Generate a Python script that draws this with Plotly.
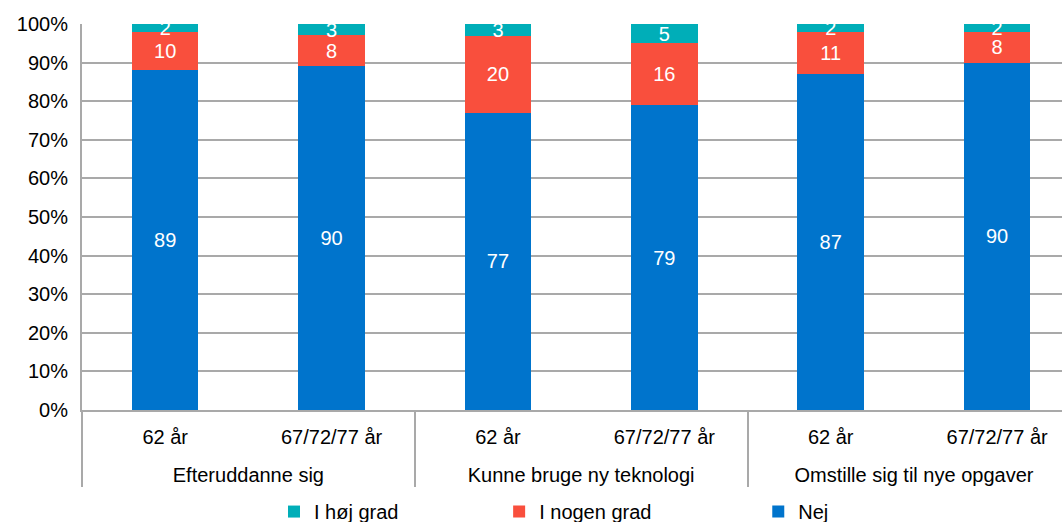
import plotly.graph_objects as go

groups = ["Efteruddanne sig", "Efteruddanne sig",
          "Kunne bruge ny teknologi", "Kunne bruge ny teknologi",
          "Omstille sig til nye opgaver", "Omstille sig til nye opgaver"]
ages = ["62 år", "67/72/77 år"] * 3

nej = [89, 90, 77, 79, 87, 90]
noget = [10, 8, 20, 16, 11, 8]
hoej = [2, 3, 3, 5, 2, 2]

# name, values, colour, legend id, legend x (container fraction)
series = [
    ("Nej", nej, "#0074CC", "legend3", 0.714),
    ("I nogen grad", noget, "#F94F3D", "legend2", 0.470),
    ("I høj grad", hoej, "#00AEB8", "legend", 0.258),
]

FONT = "Liberation Sans, Arial, sans-serif"
GRID = "#a9a9a9"

# transparent tall spacer so the group labels sit further below the age labels
pad = "<span style='font-size:40px;color:rgba(0,0,0,0)'>\u00a0</span>"
age_labels = [pad + a + pad for a in ages]

fig = go.Figure()
legends = {}
for name, vals, color, leg, lx in series:
    fig.add_trace(go.Bar(
        x=[groups, age_labels],
        y=vals,
        name=name,
        legend=leg,
        showlegend=True,
        marker=dict(color=color, line=dict(width=0)),
        text=[str(v) for v in vals],
        textposition="inside",
        insidetextanchor="middle",
        textangle=0,
        constraintext="none",
        textfont=dict(color="white", size=20, family=FONT),
        hoverinfo="name+y",
    ))
    legends[leg] = dict(
        orientation="h",
        xref="container", x=lx, xanchor="left",
        yref="container", y=0.02, yanchor="middle",
        itemwidth=30,
        font=dict(size=20),
        bgcolor="rgba(0,0,0,0)",
    )

fig.update_layout(
    width=1062,
    height=522,
    showlegend=True,
    barmode="stack",
    barnorm="percent",
    bargap=0.6,
    font=dict(family=FONT, size=20, color="#000000"),
    plot_bgcolor="white",
    paper_bgcolor="white",
    margin=dict(l=82, r=0, t=24, b=112, autoexpand=False),
    xaxis=dict(
        type="multicategory",
        range=[-0.5, 5.39],
        showline=True,
        linecolor=GRID,
        linewidth=2,
        showdividers=True,
        dividercolor=GRID,
        dividerwidth=2,
        ticks="",
        ticklabelstandoff=8,
        tickfont=dict(size=20),
        tickangle=0,
    ),
    yaxis=dict(
        range=[0, 100],
        dtick=10,
        ticksuffix="%",
        showline=True,
        linecolor=GRID,
        linewidth=2,
        showgrid=True,
        gridcolor=GRID,
        gridwidth=2,
        zeroline=False,
        ticks="outside",
        ticklen=8,
        tickcolor="rgba(0,0,0,0)",
        tickfont=dict(size=20),
    ),
    **legends,
)

fig.write_html(
    "out.html",
    config={"displayModeBar": False},
    post_script="document.body.style.margin='0';document.body.style.overflow='hidden';",
)
